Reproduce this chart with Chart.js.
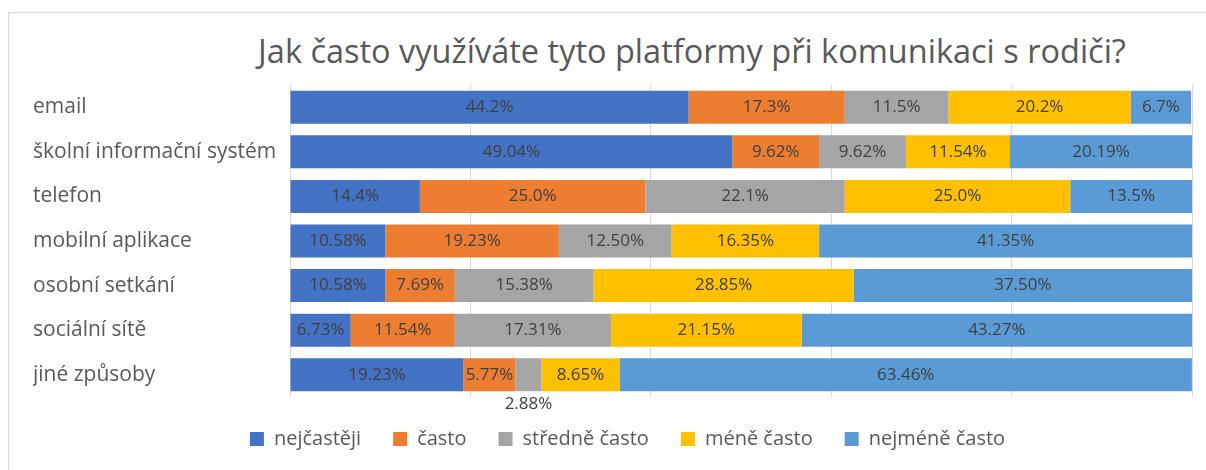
<!DOCTYPE html>
<html lang="cs">
<head>
<meta charset="utf-8">
<title>Komunikace s rodiči</title>
<script src="https://cdn.jsdelivr.net/npm/chart.js@4.4.1/dist/chart.umd.min.js"></script>
<style>
    html, body { margin: 0; padding: 0; background: #ffffff; overflow: hidden; }
    #wrap { position: relative; width: 1206px; height: 470px; }
    #frame {
        position: absolute; left: 8px; top: 12px; right: -10px; bottom: -10px;
        border: 1px solid #d9d9d9;
    }
    #chartTitle {
        position: absolute; left: 192px; width: 1000px; top: 28px;
        text-align: center; font-family: "Open Sans", sans-serif;
        font-size: 32.5px; color: #595959; white-space: nowrap;
    }
    #chart { position: absolute; left: 0; top: 0; }
</style>
</head>
<body>
<div id="wrap">
    <div id="frame"></div>
    <div id="chartTitle">Jak často využíváte tyto platformy při komunikaci s rodiči?</div>
    <canvas id="chart" width="1206" height="470"></canvas>
</div>
<script>
// ============================================
// Data
// ============================================

const categories = [
    'email',
    'školní informační systém',
    'telefon',
    'mobilní aplikace',
    'osobní setkání',
    'sociální sítě',
    'jiné způsoby'
];

const seriesNames = ['nejčastěji', 'často', 'středně často', 'méně často', 'nejméně často'];

const nejcasteji   = [44.2, 49.04, 14.4, 10.58, 10.58, 6.73, 19.23];
const casto        = [17.3, 9.62, 25.0, 19.23, 7.69, 11.54, 5.77];
const stredneCasto = [11.5, 9.62, 22.1, 12.50, 15.38, 17.31, 2.88];
const meneCasto    = [20.2, 11.54, 25.0, 16.35, 28.85, 21.15, 8.65];
const nejmeneCasto = [6.7, 20.19, 13.5, 41.35, 37.50, 43.27, 63.46];

// decimals shown in the labels of each row (email + telefon use one)
const labelDecimals = [1, 2, 1, 2, 2, 2, 2];

const axisMax = 100;
const axisStep = 20;

const seriesColors = ['#4472C4', '#ED7D31', '#A5A5A5', '#FFC000', '#5B9BD5'];

// ============================================
// Plugins
// ============================================

// values in the middle of each bar piece
const segmentLabels = {
    id: 'segmentLabels',
    afterDatasetsDraw(chart) {
        const ctx = chart.ctx;
        ctx.save();
        ctx.font = '17px "Open Sans", sans-serif';
        ctx.fillStyle = '#404040';
        ctx.textAlign = 'center';
        ctx.textBaseline = 'middle';

        chart.data.datasets.forEach((ds, di) => {
            const meta = chart.getDatasetMeta(di);
            meta.data.forEach((bar, i) => {
                const text = ds.data[i].toFixed(labelDecimals[i]) + '%';
                const left = Math.min(bar.x, bar.base);
                const right = Math.max(bar.x, bar.base);
                const cx = (left + right) / 2;
                const tw = ctx.measureText(text).width;
                let cy = bar.y;
                // too narrow -> put it under the bar like Excel does
                if (tw > (right - left) + 12) {
                    cy = bar.y + bar.height / 2 + 13;
                }
                ctx.fillText(text, cx, cy);
            });
        });
        ctx.restore();
    }
};

// legend in the original sits a bit right of the canvas centre
const legendShift = {
    id: 'legendShift',
    afterLayout(chart) {
        chart.legend.left += 15;
        chart.legend.right += 15;
    }
};

// ============================================
// Chart
// ============================================

const datasets = [nejcasteji, casto, stredneCasto, meneCasto, nejmeneCasto].map((values, k) => ({
    label: seriesNames[k],
    data: values,
    backgroundColor: seriesColors[k],
    borderWidth: 0,
    categoryPercentage: 1,
    barPercentage: 0.74
}));

Chart.defaults.font.family = '"Open Sans", sans-serif';
Chart.defaults.color = '#595959';

new Chart(document.getElementById('chart'), {
    type: 'bar',
    data: { labels: categories, datasets: datasets },
    options: {
        indexAxis: 'y',
        responsive: false,
        animation: false,
        layout: { padding: { top: 85, left: 33, right: 14, bottom: 11 } },
        scales: {
            x: {
                stacked: true,
                min: 0,
                max: axisMax,
                ticks: { display: false, stepSize: axisStep },
                grid: { color: '#d9d9d9', drawTicks: false },
                border: { display: false }
            },
            y: {
                stacked: true,
                grid: { display: false },
                border: { display: false },
                ticks: {
                    crossAlign: 'far',
                    color: '#595959',
                    font: { size: 21 }
                },
                afterFit(scale) { scale.width = 257; }
            }
        },
        plugins: {
            title: { display: false },
            tooltip: { enabled: false },
            legend: {
                position: 'bottom',
                labels: {
                    boxWidth: 14,
                    boxHeight: 14,
                    padding: 32,
                    color: '#595959',
                    font: { size: 20 }
                }
            }
        }
    },
    plugins: [segmentLabels, legendShift]
});
</script>
</body>
</html>
